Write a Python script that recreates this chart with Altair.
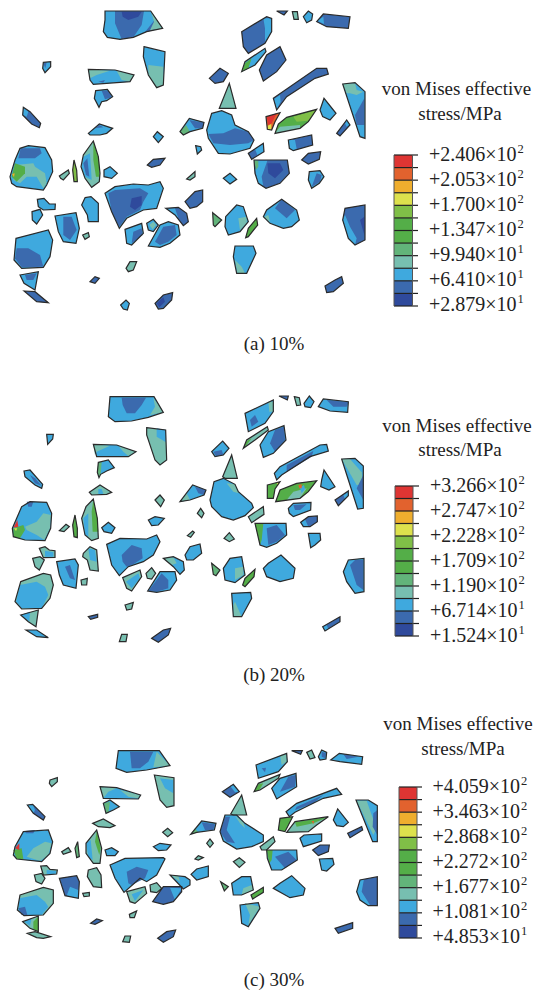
import altair as alt

PAL = dict(R="#de3533", O="#e2622e", A="#efae2e", Y="#dde14d", L="#80bf47", G="#54ae48",
           M="#62b47a", T="#77bfb0", C="#3fa9de", B="#3b6aae", D="#2f4a9c")
LEGEND_COLORS = ["R", "O", "A", "Y", "L", "G", "G", "M", "T", "C", "B", "D"]

# Particle tables at 3x: (crop left, crop top, particles)
# each particle: (base colour, outline, [(patch colour, patch), ...])
A1 = (0, 0, [
 ("B",[315,33,452,33,488,85,440,95,400,112,360,118,322,112,310,95,315,60],[("C",[315,33,345,33,345,70,365,118,360,118,322,112,310,95,315,60]),("C",[432,33,452,33,462,62,435,96,400,112,425,75]),("T",[452,33,488,85,450,91,462,65]),("D",[365,35,425,35,415,50,385,60,368,50])]),
 ("C",[130,187,152,185,152,200,135,218,128,205],[("B",[130,190,140,187,136,205])]),
 ("C",[432,140,495,155,490,255,470,263,445,225,430,170],[("T",[445,195,490,200,490,255,470,263,445,225])]),
 ("C",[265,208,345,210,402,225,390,245,280,253,270,240],[("T",[350,212,402,225,390,245,365,240]),("T",[265,208,330,212,290,225,270,235]),("B",[295,245,315,240,310,248])]),
 ("C",[287,272,322,268,338,290,320,302,305,305,297,322,283,295],[("B",[305,272,325,272,336,292,315,298])]),
 ("B",[70,322,90,335,122,370,118,383,95,372,68,345],[("C",[70,322,85,335,80,350,68,345])]),
 ("C",[265,400,298,372,338,385,320,400,300,405,270,405],[("B",[285,385,298,375,310,382])]),
 ("C",[85,437,135,443,155,480,158,515,140,555,130,570,90,565,50,560,35,550,30,530,45,480,60,445],[("B",[62,445,120,445,125,460,105,475,55,475]),("T",[45,495,100,490,105,500,135,520,140,550,130,565,110,530,80,530,60,550,40,540]),("G",[35,530,45,490,75,500,75,520,50,545]),("A",[36,522,44,520,42,532])]),
 ("T",[280,423,295,470,300,520,298,545,275,562,255,535,243,500,250,465],[("C",[250,470,270,460,275,540,255,530,245,500]),("B",[250,490,262,475,268,530,258,525]),("G",[280,425,297,480,298,530,288,530,280,480])]),
 ("L",[222,480,230,510,232,545,222,545,218,510],[]),
 ("T",[178,528,205,510,208,520,190,540,182,535],[]),
 ("C",[312,510,330,500,352,520,335,535,312,530],[]),
 ("C",[460,410,472,395,490,410,475,428],[]),
 ("B",[442,495,460,478,495,475,480,495,455,502],[]),
])
A2 = (180, 0, [
 ("C",[0,395,28,355,72,367,68,385,30,395,10,405],[("B",[28,360,72,368,68,385,45,385]),("M",[0,395,18,375,30,395,10,405])]),
 ("B",[290,33,322,33,312,45],[]),
 ("T",[337,35,352,35,355,58,342,58],[]),
 ("C",[370,50,385,33,398,42,395,60,380,68],[]),
 ("B",[410,65,430,42,510,50,505,85,440,80],[("C",[412,62,430,50,432,72])]),
 ("B",[185,95,260,50,275,55,275,95,255,130,205,160,190,140],[("C",[250,55,275,55,275,95,255,125,255,85])]),
 ("C",[185,215,195,185,255,145,258,155,225,195],[("G",[185,215,195,190,215,175,205,205])]),
 ("B",[238,210,260,165,300,140,318,180,290,215,250,243],[]),
 ("B",[88,235,120,205,145,220,130,245,105,250],[]),
 ("T",[118,325,148,250,168,325],[]),
 ("B",[280,295,410,205,440,205,445,222,405,235,320,290,290,330],[("C",[282,297,300,285,302,305,290,328])]),
 ("O",[258,350,300,338,285,365,275,390,262,388],[("R",[260,350,290,340,275,370,265,375]),("Y",[262,378,274,372,274,390,264,388])]),
 ("G",[285,400,295,372,320,352,410,328,385,365,360,385],[("L",[340,350,408,330,385,362,350,365]),("T",[285,400,300,380,360,375,360,385])]),
 ("C",[420,330,432,295,468,340,450,360,428,350],[]),
 ("C",[488,252,525,248,555,275,555,415,540,410],[("T",[488,252,525,250,530,270,550,275,530,285,510,280,500,280]),("B",[525,345,553,295,553,375,530,375])]),
 ("B",[470,400,500,360,510,375,480,408],[("C",[495,370,500,362,509,374,500,380])]),
 ("B",[325,420,395,405,398,435,340,452,328,445],[("C",[325,420,345,420,350,447,340,452,328,445])]),
 ("B",[365,480,385,460,422,455,418,478,385,492],[]),
 ("C",[95,340,125,332,155,345,165,375,205,395,222,420,210,445,150,462,115,460,85,415,80,390],[("B",[85,402,130,400,165,385,205,395,222,420,205,430,150,435,100,430])]),
 ("B",[205,460,250,430,252,455,215,478],[("C",[225,447,250,432,250,455,232,465])]),
 ("C",[47,437,62,440,65,450,52,462],[]),
])
A3 = (0, 160, [
 ("C",[112,118,132,115,148,132,166,132,165,148,130,150,115,140],[]),
 ("C",[96,155,120,148,128,165,110,192,97,180],[]),
 ("C",[165,168,228,158,238,205,228,250,190,245,175,215],[("B",[190,170,215,170,230,210,210,240,190,225])]),
 ("C",[255,113,273,110,295,130,295,185,265,185,262,165,245,135],[]),
 ("T",[248,225,265,218,268,230,255,238],[]),
 ("C",[315,100,345,80,400,72,445,75,480,65,490,85,470,145,430,150,380,175,358,205,335,155],[("B",[325,100,345,90,420,85,445,100,430,125,420,150,380,170,358,200,335,155]),("D",[395,115,425,108,425,135,405,150,390,140])]),
 ("C",[375,208,425,190,430,220,395,255,380,250],[("B",[400,215,425,205,428,225,395,250])]),
 ("C",[440,190,460,178,475,195,460,215,445,210],[("T",[448,195,460,185,468,195,458,208])]),
 ("C",[445,258,480,195,505,185,535,195,540,225,510,250,480,262],[("B",[465,245,490,200,525,195,530,225,505,245,480,255])]),
 ("B",[497,145,535,142,560,160,565,185,550,197,525,165],[("C",[497,145,525,145,535,175,525,165])]),
 ("C",[48,235,145,210,158,240,150,290,130,322,65,325,42,300],[("B",[45,295,50,265,85,265,120,285,130,320,65,322])]),
 ("C",[60,345,115,335,105,390,72,370],[("B",[75,345,110,340,100,360,80,360])]),
 ("B",[72,393,105,395,145,428,110,425],[]),
 ("T",[378,325,390,305,410,305,400,330,385,335],[]),
 ("B",[270,365,285,350,298,355,285,370],[]),
 ("C",[362,435,378,420,388,430,382,450,370,447],[]),
 ("B",[465,430,490,405,518,398,515,420,490,445,475,447],[("D",[470,430,490,412,495,425,478,442])]),
])
A4 = (180, 160, [
 ("B",[222,0,322,0,328,40,300,70,258,85,235,70,225,40],[("C",[235,2,262,2,245,50,250,80,235,70,225,30]),("D",[262,10,300,10,310,30,285,55,265,40]),("M",[222,0,235,2,235,20,228,30])]),
 ("C",[388,35,420,32,432,50,418,70,395,85,385,60],[("B",[395,80,410,40,425,45,420,65])]),
 ("C",[130,55,150,40,170,58,150,72],[]),
 ("T",[20,57,45,35,45,50,30,60],[]),
 ("B",[15,125,45,95,68,90,68,125,50,140,30,145],[]),
 ("C",[137,170,170,135,190,140,205,185,180,215,145,225,135,200],[("T",[175,175,200,170,200,190,180,210])]),
 ("M",[98,158,125,180,105,200,100,195],[]),
 ("G",[197,233,205,205,230,175,233,195,205,230],[]),
 ("C",[250,170,260,150,305,118,350,150,358,180,335,200,310,205,270,190],[("B",[285,145,305,118,345,150,320,175]),("T",[250,172,265,165,270,185])]),
 ("B",[488,180,495,145,555,135,555,240,525,255,505,235],[("C",[488,180,495,165,510,200,530,235,525,255,505,235]),("D",[540,180,553,170,553,225])]),
 ("C",[165,258,220,258,228,280,200,340,170,340,160,290],[("T",[165,300,185,320,195,340,172,340])]),
 ("B",[435,378,465,360,485,350,490,370,460,395,440,398],[]),
])

B1 = (0, 385, [
 ("C",[330,35,462,35,490,82,445,97,395,108,345,110,325,95],[("B",[365,38,438,38,425,60,405,85,380,85,368,60]),("T",[460,38,490,82,450,90,465,65])]),
 ("C",[140,148,160,148,158,162,143,178],[]),
 ("T",[440,128,497,135,500,225,480,240,465,225,440,150],[("C",[470,130,498,135,498,172,470,155])]),
 ("C",[280,178,350,180,408,200,385,215,290,215],[("T",[280,178,330,182,290,200,285,210]),("T",[355,182,408,200,385,213,370,200])]),
 ("C",[295,232,325,225,343,248,320,258,302,268,297,278,292,262],[("M",[295,232,305,232,302,268,297,275,292,262])]),
 ("C",[72,258,90,255,128,298,125,310,105,300,75,275],[("B",[90,270,105,280,125,302,105,295])]),
 ("T",[268,322,300,300,335,322,320,328,275,330],[("C",[295,312,305,312,310,326,295,328])]),
 ("T",[465,345,480,330,493,345,482,365],[]),
 ("C",[445,405,465,395,493,400,475,420,455,422],[]),
 ("C",[65,365,90,350,140,352,155,385,152,430,135,467,75,465,40,455,37,430,50,400],[("T",[75,425,110,410,130,385,153,390,150,430,133,465,110,450,80,435]),("G",[40,430,70,420,75,435,60,460,40,455]),("R",[40,428,52,405,55,425]),("Y",[42,430,52,430,48,438]),("B",[80,350,100,350,95,365,85,365])]),
 ("T",[280,342,292,400,295,460,275,467,255,450,245,400,258,365],[("G",[280,345,292,400,295,440,278,440,275,380]),("C",[250,400,265,385,265,455,255,450])]),
 ("G",[225,390,232,430,232,458,222,455,218,420],[]),
 ("T",[178,437,198,418,208,425,192,440],[]),
 ("C",[305,428,325,412,345,428,335,445,312,440],[]),
 ("C",[320,478,360,460,440,462,470,450,480,470,460,510,430,530,385,545,358,572,335,540],[("B",[365,510,395,480,425,490,428,520,400,538,380,545,368,530])]),
 ("T",[118,490,135,485,148,495,165,497,165,517,130,518],[("C",[135,497,160,502,160,515,135,515])]),
 ("T",[98,520,120,515,133,525,118,555,105,545],[]),
 ("C",[170,530,225,522,235,540,228,610,190,600,178,570],[("B",[195,545,210,540,225,585,210,580])]),
 ("T",[250,505,270,485,290,495,295,558,270,555,262,525,248,515],[("C",[265,490,285,495,290,530,270,525])]),
 ("T",[243,585,262,580,260,600,245,600],[]),
 ("T",[62,590,130,565,152,570,160,600,150,640,125,670,65,672,45,650],[("C",[60,600,110,590,135,605,145,630,125,670,65,670,48,650])]),
 ("T",[62,690,115,675,108,725,85,710],[("C",[62,690,90,680,88,710])]),
 ("C",[78,735,110,735,145,758,110,755],[]),
 ("T",[368,578,420,555,425,575,395,618,380,610],[("C",[378,590,415,565,420,580,395,610])]),
 ("T",[438,565,455,548,467,565,455,582,442,580],[]),
 ("C",[443,618,480,560,525,560,530,585,510,615,470,622],[("B",[445,618,485,565,505,585,505,610,470,620])]),
 ("C",[490,520,520,515,550,530,553,555,540,568,520,545],[("T",[490,520,520,517,530,535,515,540])]),
 ("T",[375,660,400,652,395,672,380,675],[]),
 ("B",[265,695,293,688,293,697,272,703],[]),
 ("T",[358,770,365,748,382,748,378,770],[]),
 ("B",[455,760,490,735,512,730,505,750,475,772],[]),
])
B2 = (180, 385, [
 ("C",[0,350,38,300,78,315,72,330,30,345],[("B",[45,305,78,315,72,330,55,325]),("T",[0,350,20,325,30,345])]),
 ("B",[297,33,325,33,322,45],[]),
 ("T",[343,35,358,38,362,60,350,62],[]),
 ("C",[372,55,388,33,402,50,392,68,375,65],[]),
 ("C",[415,65,430,42,505,50,503,82,450,78],[("B",[440,45,505,52,500,65,460,65])]),
 ("C",[195,85,280,45,280,80,255,115,205,140],[("B",[210,105,225,90,235,110,215,125]),("T",[265,50,280,50,280,80,268,80])]),
 ("T",[190,190,200,165,262,125,265,135,225,165],[("G",[190,190,200,168,215,160,200,180])]),
 ("C",[240,180,265,140,312,122,318,165,280,205,250,217],[("B",[270,175,285,135,312,125,315,165,285,200])]),
 ("C",[95,200,128,168,147,190,130,210,105,215],[("B",[100,200,125,195,130,210,108,213])]),
 ("T",[128,275,155,210,172,280,135,280],[]),
 ("C",[283,265,300,245,420,180,440,178,445,198,390,215,305,270,290,285],[("B",[320,240,400,198,395,215,320,260])]),
 ("G",[262,300,300,290,285,312,280,340,262,340],[("Y",[290,294,300,291,294,302])]),
 ("G",[287,350,300,315,350,295,410,287,385,320,360,340],[("T",[340,320,380,310,360,340,320,345]),("C",[360,308,372,300,375,312,365,325]),("O",[355,300,365,298,365,310,358,310])]),
 ("C",[425,285,432,255,465,305,447,315,422,305],[]),
 ("C",[485,222,525,220,550,243,550,370,533,372],[("T",[485,222,510,222,545,262,550,300,530,300]),("B",[530,310,550,270,550,345])]),
 ("B",[465,345,505,318,505,332,475,362],[("C",[490,330,505,320,505,332,495,342])]),
 ("C",[325,370,340,355,393,352,392,375,340,395,328,385],[("B",[340,360,380,358,360,375,345,375])]),
 ("B",[362,412,385,395,412,393,412,410,390,425,370,425],[("C",[362,412,375,403,385,425,370,425])]),
 ("C",[385,445,420,445,422,465,405,480,392,488],[]),
 ("C",[90,345,102,290,130,280,165,298,175,320,215,355,220,368,195,392,160,405,125,395,95,365],[("T",[140,295,165,298,175,325,160,320])]),
 ("T",[205,395,250,365,252,388,215,413],[]),
 ("C",[225,415,318,415,320,450,290,475,260,487,240,480],[("G",[225,415,250,415,245,465,240,480]),("B",[260,430,290,420,315,450,290,470,265,480])]),
 ("T",[52,385,62,370,72,385,65,398],[]),
 ("T",[22,452,38,438,43,442,32,457],[]),
 ("T",[132,460,148,443,163,462,148,470],[]),
 ("C",[15,510,30,485,60,477,65,505,40,525,20,525],[]),
 ("M",[95,535,120,555,108,572,100,568],[]),
 ("C",[130,550,150,520,185,515,195,570,165,593,135,585],[("T",[165,550,190,545,190,570,165,585])]),
 ("G",[188,600,195,580,225,553,222,575,195,605],[]),
 ("C",[250,550,265,535,303,510,345,550,340,580,300,590,260,575],[]),
 ("C",[490,560,505,525,552,520,552,620,525,625,500,590],[("B",[510,540,525,525,550,525,550,615,530,600])]),
 ("C",[155,625,212,622,215,640,185,695,160,695],[("T",[165,650,185,695,160,695,160,660])]),
 ("B",[428,725,480,695,480,710,435,738],[("C",[428,725,440,720,445,732,435,738])]),
])

C1 = (0, 735, [
 ("C",[355,47,478,47,510,92,440,105,380,112,348,100],[("B",[390,50,460,50,445,80,420,100,395,100]),("T",[470,50,510,92,460,97])]),
 ("T",[150,135,172,128,172,140,155,155,148,145],[]),
 ("T",[463,120,522,128,522,212,500,217,480,195],[("C",[480,130,520,135,520,175,495,160])]),
 ("C",[300,155,350,158,422,180,415,192,310,190],[("T",[300,155,350,160,325,170,310,190]),("T",[360,165,420,180,415,190,385,185])]),
 ("C",[310,205,330,195,358,215,340,225,318,235],[("M",[312,205,330,200,325,235,318,232])]),
 ("B",[82,210,98,208,135,245,130,255,100,235],[("C",[82,210,98,208,105,225,100,235])]),
 ("T",[278,265,310,252,345,272,330,278,295,275],[]),
 ("T",[488,292,503,280,518,293,503,305],[]),
 ("C",[460,335,480,325,513,330,500,345,475,347],[]),
 ("C",[330,390,375,370,490,368,495,372,470,420,440,440,420,430,372,472,345,430],[("B",[380,410,410,395,445,405,435,430,395,450,385,445])]),
 ("C",[70,290,145,285,158,320,150,355,125,380,50,372,40,360,45,335],[("T",[80,365,100,340,135,320,155,325,145,360,120,378]),("G",[40,345,65,340,70,372,50,372]),("R",[45,340,58,325,58,345]),("B",[75,288,105,285,100,295,78,295])]),
 ("T",[290,285,305,340,300,385,280,385,258,355,258,325],[("G",[290,288,302,340,298,360,285,320]),("C",[258,325,272,315,278,375,265,365])]),
 ("M",[233,320,238,365,230,368,225,340],[]),
 ("T",[185,350,205,338,213,350,190,358],[]),
 ("C",[315,345,335,338,355,350,345,362,320,362],[]),
 ("T",[122,393,140,392,150,403,172,405,170,417,130,420],[("C",[140,405,168,408,168,416,140,418])]),
 ("T",[103,420,125,415,135,430,125,447,108,440],[]),
 ("B",[178,430,230,422,238,440,235,490,195,482],[("C",[210,455,235,465,235,490,200,482])]),
 ("T",[265,405,290,398,303,420,305,458,280,455,262,425],[]),
 ("T",[248,475,268,472,268,483,252,485],[]),
 ("T",[60,480,130,457,160,465,160,505,130,540,72,542,52,525],[("C",[58,490,110,480,135,500,145,515,125,540,72,540,55,525]),("B",[55,520,75,515,82,540,65,540])]),
 ("T",[68,560,115,543,115,590,90,580],[("C",[72,560,95,550,90,572]),("G",[100,560,114,545,114,588,100,582])]),
 ("T",[82,595,105,590,152,605,130,610,110,608],[]),
 ("T",[380,470,435,455,440,475,405,505,390,500],[("C",[395,478,430,465,405,498])]),
 ("T",[450,450,470,443,485,460,470,473,452,470],[]),
 ("B",[458,500,490,455,545,455,545,470,520,500,490,508],[("C",[510,458,545,460,525,495])]),
 ("C",[510,420,555,425,570,435,570,450,550,462],[("T",[510,420,535,422,540,440])]),
 ("T",[388,538,410,528,403,548,390,548],[]),
 ("B",[272,565,290,552,307,557,285,568],[]),
 ("T",[368,620,375,603,392,603,388,622],[]),
 ("B",[473,610,500,590,527,585,520,605,490,622],[]),
])
C2 = (180, 735, [
 ("C",[32,298,65,258,108,265,103,285,50,292],[("B",[65,262,105,268,100,285,75,285]),("M",[32,298,45,280,55,292])]),
 ("B",[335,47,367,47,362,58],[]),
 ("T",[380,52,395,45,405,68,390,72],[]),
 ("C",[415,65,425,45,440,52,438,72,420,75],[("B",[425,50,438,55,436,70,425,65])]),
 ("C",[452,75,478,55,548,65,545,88,480,80],[("B",[490,58,535,65,500,72])]),
 ("C",[228,90,320,55,322,80,295,110,235,130],[("T",[300,60,320,58,320,80,305,90]),("B",[245,100,258,98,255,112])]),
 ("T",[222,170,235,145,300,118,295,130,240,165],[("G",[222,170,235,148,250,145,238,165])]),
 ("C",[275,160,300,130,348,115,350,155,290,192],[("B",[300,170,325,125,348,120,345,155])]),
 ("B",[127,170,160,148,178,170,150,187],[("C",[150,152,160,150,176,170,165,172])]),
 ("T",[152,237,185,180,200,240,160,240],[]),
 ("C",[318,230,350,205,470,160,485,178,430,190,345,232,328,245],[("B",[350,215,430,180,400,205,345,225])]),
 ("G",[295,285,300,250,338,245,315,290],[]),
 ("T",[320,292,345,260,445,245,410,270,385,290],[("G",[345,262,443,247,400,265,350,275]),("O",[395,258,402,258,400,268])]),
 ("C",[460,255,473,222,505,262,490,275,470,272],[]),
 ("C",[528,195,565,195,592,212,592,320,578,320],[("T",[530,197,560,197,575,240,590,280,580,300]),("B",[580,235,592,225,592,300,578,275])]),
 ("B",[503,295,545,275,548,285,510,308],[]),
 ("C",[360,310,372,300,425,297,425,318,370,335],[]),
 ("B",[398,345,420,330,448,330,445,350,415,362],[]),
 ("C",[418,372,458,370,462,388,440,408,425,405],[]),
 ("C",[120,290,135,240,170,240,195,265,250,300,250,320,215,335,170,342,130,318],[("B",[120,290,135,245,150,245,140,285,165,325,140,320]),("T",[165,242,190,262,195,280,180,265])]),
 ("T",[240,335,280,305,285,320,260,345,245,345],[]),
 ("T",[80,325,90,312,100,325,90,337],[]),
 ("T",[45,372,55,362,70,368,55,375],[]),
 ("T",[160,380,178,368,195,382,178,397],[]),
 ("C",[33,418,50,402,85,393,85,425,50,435],[]),
 ("M",[122,440,145,455,133,468],[]),
 ("C",[155,445,185,425,212,425,220,465,185,480,160,480],[("T",[190,460,215,450,220,465,185,480])]),
 ("G",[213,480,250,457,250,472,218,492],[]),
 ("C",[280,460,300,445,335,422,375,460,370,480,330,488],[]),
 ("B",[530,470,540,435,592,425,592,512,565,512,540,495],[("C",[530,470,540,435,552,432,545,470,570,510,565,512,540,495])]),
 ("C",[180,510,235,503,240,520,205,575,185,565],[("T",[195,505,240,515,205,570,210,540])]),
 ("B",[465,580,518,563,518,580,475,595],[]),
 ("C",[260,345,350,345,352,375,305,405,275,405,262,370],[("B",[285,365,325,350,350,375,315,400]),("G",[260,345,278,345,275,375,268,385])]),
])

PANELS = [A1, A2, A3, A4, B1, B2, C1, C2]

TITLE_1, TITLE_2 = "von Mises effective", "stress/MPa"
LEGENDS = [
 dict(left=394, right=412.5, tick=418, top=155, bottom=306, tx=429, base=160.7, cx1=456.5, cx2=460, t1=95, t2=120,
      labels=["+2.406×10","+2.053×10","+1.700×10","+1.347×10","+9.940×10","+6.410×10","+2.879×10"], sup=["2","2","2","2","1","1","1"]),
 dict(left=395, right=413, tick=419, top=486, bottom=636, tx=430, base=491.7, cx1=457, cx2=460, t1=432, t2=456,
      labels=["+3.266×10","+2.747×10","+2.228×10","+1.709×10","+1.190×10","+6.714×10","+1.524×10"], sup=["2","2","2","2","2","1","1"]),
 dict(left=399, right=417, tick=422, top=787, bottom=938, tx=432.5, base=793, cx1=458, cx2=463, t1=730, t2=755,
      labels=["+4.059×10","+3.463×10","+2.868×10","+2.272×10","+1.677×10","+1.081×10","+4.853×10"], sup=["2","2","2","2","2","2","1"]),
]
CAPTIONS = [("(a) 10%", 274, 350), ("(b) 20%", 274, 681), ("(c) 30%", 274, 986)]
LABEL_STEP = 25.0
SUP_DX, SUP_DY = 88.5, -8

def poly(ox, oy, flat, color):
    pts = [[ox + flat[i] / 3, oy + flat[i + 1] / 3] for i in range(0, len(flat), 2)]
    pts.append(pts[0])
    return {"type": "Feature", "geometry": {"type": "Polygon", "coordinates": [pts]},
            "properties": {"c": PAL[color]}}

fills, outlines = [], []
for ox, oy, parts in PANELS:
    for base, outline, patches in parts:
        fills.append(poly(ox, oy, outline, base))
        for col, pts in patches:
            fills.append(poly(ox, oy, pts, col))
        outlines.append(poly(ox, oy, outline, base))

proj = alt.Projection(type="identity", scale=1, translate=[-8, -8])
geo = lambda feats: alt.Data(values=feats)

fill_layer = alt.Chart(geo(fills)).mark_geoshape(strokeWidth=0).encode(
    fill=alt.Fill("properties.c:N", scale=None)).project(**proj.to_dict())
line_layer = alt.Chart(geo(outlines)).mark_geoshape(filled=False, stroke="#2a2a2a", strokeWidth=1.2).project(**proj.to_dict())

X = alt.Scale(domain=[8, 534], nice=False, zero=False)
Y = alt.Scale(domain=[8, 990], nice=False, zero=False, reverse=True)

rects, ticks, labels, sups, titles = [], [], [], [], []
for L in LEGENDS:
    n = len(LEGEND_COLORS)
    h = (L["bottom"] - L["top"]) / n
    for i, c in enumerate(LEGEND_COLORS):
        rects.append(dict(x=L["left"], x2=L["right"], y=L["top"] + i * h, y2=L["top"] + (i + 1) * h, c=PAL[c]))
    for i in range(n + 1):
        ticks.append(dict(x=L["left"], x2=L["tick"], y=L["top"] + i * h))
    for i, (t, s) in enumerate(zip(L["labels"], L["sup"])):
        labels.append(dict(x=L["tx"], y=L["base"] + i * LABEL_STEP, t=t))
        sups.append(dict(x=L["tx"] + SUP_DX, y=L["base"] + i * LABEL_STEP + SUP_DY, t=s))
    titles.append(dict(x=L["cx1"], y=L["t1"], t=TITLE_1))
    titles.append(dict(x=L["cx2"], y=L["t2"], t=TITLE_2))
for t, x, y in CAPTIONS:
    titles.append(dict(x=x, y=y, t=t))

def xq(): return alt.X("x:Q", scale=X, axis=None)
def yq(): return alt.Y("y:Q", scale=Y, axis=None)

rect_layer = alt.Chart(alt.Data(values=rects)).mark_rect().encode(
    x=xq(), x2="x2:Q", y=yq(), y2="y2:Q", fill=alt.Fill("c:N", scale=None))
frame_layer = alt.Chart(alt.Data(values=ticks)).mark_rule(color="#222", strokeWidth=1.2).encode(
    x=xq(), x2="x2:Q", y=yq())
side = []
for L in LEGENDS:
    side += [dict(x=L["left"], y=L["top"], y2=L["bottom"]), dict(x=L["right"], y=L["top"], y2=L["bottom"])]
side_layer = alt.Chart(alt.Data(values=side)).mark_rule(color="#555", strokeWidth=1).encode(
    x=xq(), y=yq(), y2="y2:Q")

FONT = "Liberation Serif"
label_layer = alt.Chart(alt.Data(values=labels)).mark_text(font=FONT, fontSize=20, align="left", baseline="alphabetic", color="#222").encode(
    x=xq(), y=yq(), text="t:N")
sup_layer = alt.Chart(alt.Data(values=sups)).mark_text(font=FONT, fontSize=12.5, align="left", baseline="alphabetic", color="#222").encode(
    x=xq(), y=yq(), text="t:N")
title_layer = alt.Chart(alt.Data(values=titles)).mark_text(font=FONT, fontSize=19, align="center", baseline="alphabetic", color="#222").encode(
    x=xq(), y=yq(), text="t:N")

chart = alt.layer(fill_layer, line_layer, rect_layer, frame_layer, side_layer,
                  label_layer, sup_layer, title_layer).properties(
    width=526, height=982, padding=0, background="white", view=alt.ViewBackground(stroke=None),
    autosize=alt.AutoSizeParams(type="none")
).configure_view(strokeWidth=0, stroke=None)

chart.save("out.html", embed_options={"renderer": "svg", "actions": False})
